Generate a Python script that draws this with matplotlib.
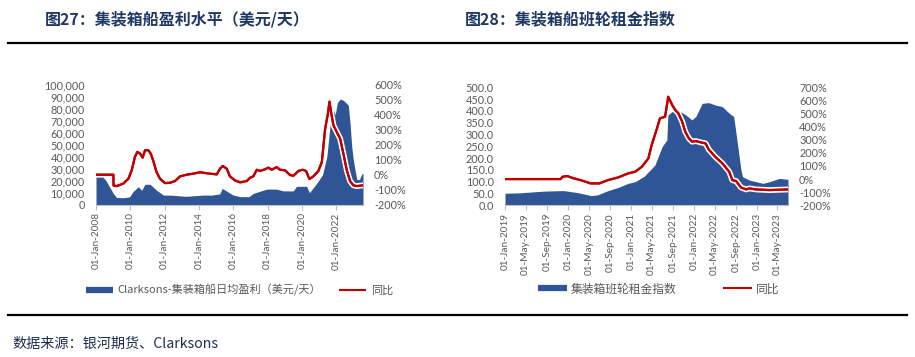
import matplotlib
matplotlib.use("Agg")
import matplotlib.pyplot as plt
import matplotlib.dates as mdates
import matplotlib.patheffects as pe
from matplotlib.lines import Line2D
import pandas as pd

plt.rcParams['font.family'] = ['Noto Sans CJK SC', 'DejaVu Sans']

# ---- 图27 data: Clarksons containership earnings ($/day) and YoY ----
earn_dates = ['2008-01-01', '2008-04-15', '2008-08-01', '2009-01-01', '2009-03-15',
              '2009-08-01', '2009-12-15', '2010-03-01', '2010-06-20', '2010-08-28',
              '2010-11-10', '2011-02-25', '2011-07-15', '2011-12-05', '2012-05-01',
              '2012-10-01', '2013-04-01', '2013-10-01', '2014-04-01', '2014-10-01',
              '2015-03-20', '2015-05-10', '2015-07-15', '2016-01-01', '2016-06-01',
              '2016-12-01', '2017-03-01', '2017-12-15', '2018-07-10', '2018-11-25',
              '2019-07-01', '2019-09-10', '2020-04-10', '2020-06-10', '2020-11-15',
              '2021-03-15', '2021-06-15', '2021-08-20', '2021-09-25', '2021-11-01',
              '2021-12-10', '2022-01-25', '2022-03-25', '2022-06-01', '2022-09-15',
              '2022-10-22', '2022-11-28', '2023-01-01', '2023-02-05', '2023-03-15',
              '2023-05-10', '2023-06-28', '2023-07-25']
earn_vals = [25000, 25000, 20000, 9500, 6000,
             5800, 6500, 11000, 15000, 12000,
             17000, 17000, 12000, 8000, 8000,
             7500, 7000, 7500, 8000, 8000,
             9000, 13600, 12000, 8000, 6700,
             6700, 9400, 13000, 13000, 11500,
             11500, 15300, 15300, 10000, 18000,
             25000, 40000, 65000, 79000, 79000,
             75000, 85000, 88000, 87000, 83000,
             68000, 48000, 37000, 29000, 21000,
             21000, 25500, 26000]

earn_yoy_dates = ['2008-01-01', '2009-01-05', '2009-01-08', '2009-03-15', '2009-08-01',
                  '2009-11-20', '2010-01-30', '2010-04-08', '2010-05-30', '2010-07-26',
                  '2010-09-20', '2010-11-10', '2011-01-20', '2011-03-10', '2011-05-05',
                  '2011-07-12', '2011-09-25', '2012-01-08', '2012-04-22', '2012-08-10',
                  '2012-11-25', '2013-04-15', '2013-09-05', '2014-01-22', '2014-08-25',
                  '2015-01-15', '2015-03-25', '2015-05-22', '2015-08-15', '2015-10-22',
                  '2016-02-06', '2016-05-26', '2016-10-16', '2016-12-24', '2017-03-03',
                  '2017-05-16', '2017-07-24', '2017-11-07', '2018-01-19', '2018-03-29',
                  '2018-07-13', '2018-09-24', '2019-01-08', '2019-04-22', '2019-07-05',
                  '2019-10-20', '2020-01-20', '2020-03-29', '2020-06-10', '2020-09-02',
                  '2020-12-17', '2021-03-01', '2021-05-08', '2021-06-10', '2021-07-05',
                  '2021-08-10', '2021-09-12', '2021-11-02', '2022-01-10', '2022-03-25',
                  '2022-06-02', '2022-08-15', '2022-10-22', '2023-01-01', '2023-03-15',
                  '2023-07-25']
earn_yoy = [0, 0, -72, -76, -60,
            -27, 29, 118, 152, 141,
            114, 163, 163, 141, 92,
            18, -27, -56, -54, -42,
            -11, 0, 7, 16, 7,
            2, 40, 58, 40, -11,
            -38, -51, -42, -20, -11,
            33, 25, 36, 47, 33,
            51, 33, 29, -2, -7,
            25, 33, 25, -29, -11,
            25, 85, 300, 360, 400,
            487, 420, 330, 286, 241,
            141, 29, -42, -71, -76,
            -71]

# ---- 图28 data: container liner charter index and YoY ----
idx_dates = ['2019-01-01', '2019-04-01', '2019-06-15', '2019-08-15', '2019-11-20',
             '2019-12-10', '2020-02-25', '2020-05-15', '2020-06-20', '2020-08-20',
             '2020-10-20', '2020-12-15', '2021-01-25', '2021-03-20', '2021-05-20',
             '2021-07-01', '2021-07-28', '2021-08-03', '2021-08-28', '2021-10-05',
             '2021-11-15', '2021-12-20', '2022-01-12', '2022-02-18', '2022-03-28',
             '2022-05-05', '2022-06-15', '2022-07-25', '2022-08-20', '2022-09-05',
             '2022-10-01', '2022-10-10', '2022-11-18', '2022-12-28', '2023-02-05',
             '2023-03-15', '2023-05-12', '2023-07-01']
idx_vals = [51, 53, 57, 60, 62,
            62, 54, 41, 44, 62,
            76, 93, 100, 124, 171,
            249, 277, 383, 397, 401,
            383, 362, 376, 432, 435,
            425, 418, 390, 376, 291,
            150, 121, 107, 100, 93,
            100, 114, 110]

idx_yoy_dates = ['2019-01-01', '2019-11-20', '2019-12-01', '2019-12-28', '2020-02-05',
                 '2020-03-15', '2020-05-12', '2020-07-01', '2020-08-20', '2020-10-20',
                 '2020-12-15', '2021-01-25', '2021-03-05', '2021-04-12', '2021-05-01',
                 '2021-06-01', '2021-06-18', '2021-07-18', '2021-08-05', '2021-08-28',
                 '2021-09-15', '2021-10-03', '2021-10-25', '2021-11-12', '2021-12-03',
                 '2021-12-22', '2022-01-12', '2022-02-10', '2022-03-10', '2022-03-28',
                 '2022-05-05', '2022-06-15', '2022-07-25', '2022-08-12', '2022-09-03',
                 '2022-10-01', '2022-11-01', '2022-11-18', '2022-12-28', '2023-03-15',
                 '2023-07-01']
idx_yoy = [0, 0, 18, 23, 5,
           -8, -33, -33, -8, 13,
           43, 56, 94, 158, 260,
           387, 463, 476, 628, 565,
           527, 501, 438, 361, 310,
           285, 290, 280, 272, 226,
           170, 120, 56, -8, -15,
           -64, -79, -71, -79, -84,
           -79]

BLUE = '#2F5597'
RED = '#C00000'
GRAY = '#595959'
W, H = 915, 357

fig = plt.figure(figsize=(W / 100, H / 100), dpi=100)


def style_axes(ax, ax2):
    for a in (ax, ax2):
        for s in ('top', 'left', 'right'):
            a.spines[s].set_visible(False)
    ax2.spines['bottom'].set_visible(False)
    ax.spines['bottom'].set_color('#BFBFBF')
    ax.tick_params(axis='x', direction='out', length=3.5, color='#BFBFBF',
                   labelsize=7.2, labelcolor=GRAY, labelrotation=90, pad=2)
    ax.tick_params(axis='y', length=0, labelsize=7.8, labelcolor=GRAY, pad=8)
    ax2.tick_params(axis='y', length=0, labelsize=7.8, labelcolor=GRAY, pad=8)
    for lab in ax.get_xticklabels() + ax.get_yticklabels() + ax2.get_yticklabels():
        lab.set_fontfamily(['Lato', 'DejaVu Sans'])


def draw(rect, a_dates, a_vals, l_dates, l_vals, ylim, yticks, yfmt, y2lim, y2ticks, locator):
    ax = fig.add_axes(rect)
    ad = pd.to_datetime(a_dates)
    ax.fill_between(ad, a_vals, 0, color=BLUE, lw=0)
    ax.set_ylim(*ylim)
    ax.set_yticks(yticks)
    ax.set_yticklabels([yfmt(v) for v in yticks])
    ax.set_xlim(ad[0], ad[-1])
    ax.xaxis.set_major_locator(locator)
    ax.xaxis.set_major_formatter(mdates.DateFormatter('%d-%b-%Y'))
    ax2 = ax.twinx()
    ax2.plot(pd.to_datetime(l_dates), l_vals, color=RED, lw=1.6, solid_joinstyle='round',
             path_effects=[pe.withStroke(linewidth=4.2, foreground='white'), pe.Normal()])
    ax2.set_ylim(*y2lim)
    ax2.set_yticks(y2ticks)
    ax2.set_yticklabels([f'{v}%' for v in y2ticks])
    ax2.set_xlim(ad[0], ad[-1])
    style_axes(ax, ax2)
    return ax, ax2


# left chart
axL, axL2 = draw([96 / W, 1 - 204.7 / H, 267 / W, 120 / H],
                 earn_dates, earn_vals, earn_yoy_dates, earn_yoy,
                 (0, 100000), list(range(0, 100001, 10000)), lambda v: f'{v:,}',
                 (-200, 600), list(range(-200, 601, 100)), mdates.YearLocator(2))

# right chart
axR, axR2 = draw([505 / W, 1 - 205.3 / H, 283 / W, 118 / H],
                 idx_dates, idx_vals, idx_yoy_dates, idx_yoy,
                 (0, 500), list(range(0, 501, 50)), lambda v: f'{v:.1f}',
                 (-200, 700), list(range(-200, 701, 100)),
                 mdates.MonthLocator(bymonth=[1, 5, 9], bymonthday=1))

# legends
hL = [Line2D([], [], color=BLUE, lw=4.5, solid_capstyle='butt'),
      Line2D([], [], color=RED, lw=1.5, solid_capstyle='butt')]
fig.legend(hL, ['Clarksons-集装箱船日均盈利（美元/天）', '同比'],
           loc='center left', bbox_to_anchor=(86 / W, 1 - 290 / H), ncol=2,
           frameon=False, fontsize=8, labelcolor=GRAY, handlelength=2.4,
           handletextpad=0.45, columnspacing=1.6, borderpad=0, borderaxespad=0)
fig.legend(hL, ['集装箱班轮租金指数', '同比'],
           loc='center left', bbox_to_anchor=(538 / W, 1 - 289 / H), ncol=2,
           frameon=False, fontsize=8.5, labelcolor=GRAY, handlelength=2.45,
           handletextpad=0.3, columnspacing=4.0, borderpad=0, borderaxespad=0)

# titles, rules and source
fig.text(45 / W, 1 - 19.5 / H, '图27：集装箱船盈利水平（美元/天）', fontsize=11.5,
         fontweight='bold', color='#1F3864', va='center', ha='left')
fig.text(465 / W, 1 - 19.5 / H, '图28：集装箱船班轮租金指数', fontsize=11.5,
         fontweight='bold', color='#1F3864', va='center', ha='left')
for yy in (42.7, 315):
    fig.add_artist(Line2D([8 / W, 907 / W], [1 - yy / H] * 2, transform=fig.transFigure,
                          color='black', lw=1.6))
fig.text(12 / W, 1 - 343.5 / H, '数据来源：银河期货、Clarksons', fontsize=10.2,
         color='#1F2D50', va='center', ha='left')

fig.savefig('out.png', dpi=100)
